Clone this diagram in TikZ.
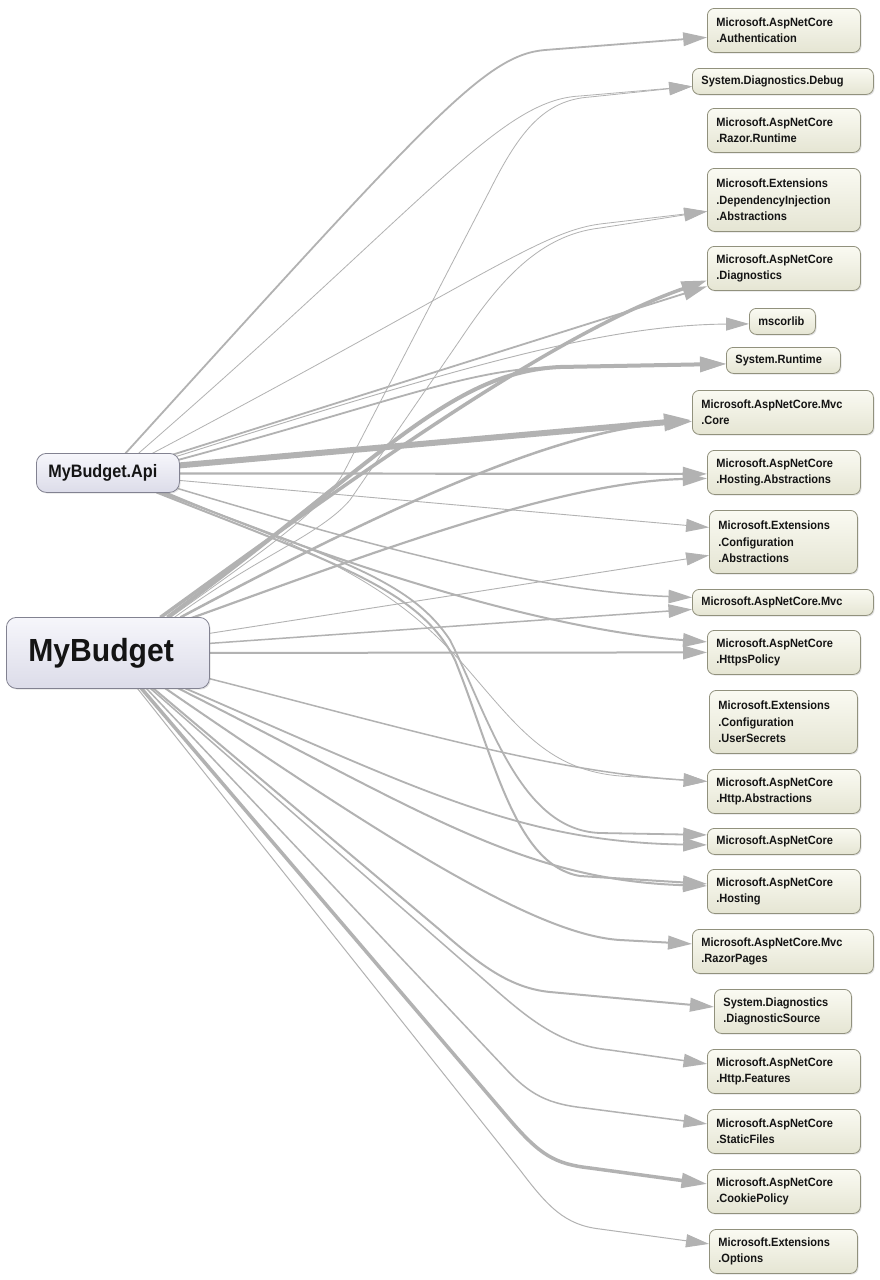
\documentclass[tikz,border=0pt]{standalone}
\usepackage{fontspec}
\setmainfont{Liberation Sans}
\newfontfamily\rfont[FakeStretch=0.92]{Liberation Sans}
\newfontfamily\afont[FakeStretch=0.90]{Liberation Sans}
\newfontfamily\mfont[FakeStretch=0.94]{Liberation Sans}
\usetikzlibrary{arrows.meta,shadows}
\definecolor{edgec}{RGB}{178,178,178}
\definecolor{rntop}{RGB}{250,250,242}
\definecolor{rnbot}{RGB}{229,229,211}
\definecolor{rnb}{RGB}{145,145,125}
\definecolor{lntop}{RGB}{246,246,251}
\definecolor{lnbot}{RGB}{220,220,233}
\definecolor{lnb}{RGB}{130,130,145}
\definecolor{txt}{RGB}{20,20,20}
\pgfdeclarelayer{bg}
\pgfsetlayers{bg,main}
\tikzset{
  rn/.style={rectangle, rounded corners=7pt, draw=rnb, line width=0.8pt,
    top color=rntop, bottom color=rnbot, anchor=north west,
    inner xsep=9pt, inner ysep=0pt, align=left, text=txt,
    font=\rfont\bfseries\fontsize{12}{16.5}\selectfont,
    drop shadow={opacity=0.22, shadow xshift=1.2pt, shadow yshift=-1.2pt}},
  ln/.style={rectangle, rounded corners=10pt, draw=lnb, line width=0.8pt,
    top color=lntop, bottom color=lnbot, anchor=north west,
    inner ysep=0pt, align=left, text=txt,
    drop shadow={opacity=0.22, shadow xshift=1.2pt, shadow yshift=-1.2pt}},
  wa/.style={minimum width=153pt, text width=135pt},
  wb/.style={minimum width=181pt, text width=163pt},
  wc/.style={minimum width=148pt, text width=130pt},
  h1/.style={minimum height=26pt},
  h2/.style={minimum height=44pt},
  h3/.style={minimum height=63pt},
  e/.style={draw=edgec, line join=round, -{Triangle[length=22pt 1, width=12.5pt 0.6]}},
  lw/.style={line width=#1}
}
\begin{document}
\begin{tikzpicture}[x=1pt,y=-1pt]
\useasboundingbox (0,0) rectangle (879,1280);
\begin{pgfonlayer}{bg}
\fill[white] (0,0) rectangle (879,1280);
\end{pgfonlayer}

% left nodes
\node[ln, font=\afont\bfseries\fontsize{18}{20}\selectfont, minimum width=143pt, minimum height=39pt, inner xsep=12pt, text width=119pt] (api) at (36,453) {MyBudget.Api};
\node[ln, font=\mfont\bfseries\fontsize{32}{34}\selectfont, minimum width=203pt, minimum height=71pt, inner xsep=22pt, text width=159pt] (mb) at (6,617) {MyBudget};

% right nodes
\node[rn, wa, h2] (auth) at (707,8) {Microsoft.AspNetCore\\.Authentication};
\node[rn, wb, h1] (debug) at (692,68) {System.Diagnostics.Debug};
\node[rn, wa, h2] (razor) at (707,108) {Microsoft.AspNetCore\\.Razor.Runtime};
\node[rn, wa, h3] (di) at (707,168) {Microsoft.Extensions\\.DependencyInjection\\.Abstractions};
\node[rn, wa, h2] (diag) at (707,246) {Microsoft.AspNetCore\\.Diagnostics};
\node[rn, h1, minimum width=66pt, text width=48pt] (mscorlib) at (749,308) {mscorlib};
\node[rn, h1, minimum width=114pt, text width=96pt] (sysrt) at (726,347) {System.Runtime};
\node[rn, wb, h2] (mvccore) at (692,390) {Microsoft.AspNetCore.Mvc\\.Core};
\node[rn, wa, h2] (hostabs) at (707,450) {Microsoft.AspNetCore\\.Hosting.Abstractions};
\node[rn, wc, h3] (cfgabs) at (709,510) {Microsoft.Extensions\\.Configuration\\.Abstractions};
\node[rn, wb, h1] (mvc) at (692,589) {Microsoft.AspNetCore.Mvc};
\node[rn, wa, h2] (https) at (707,630) {Microsoft.AspNetCore\\.HttpsPolicy};
\node[rn, wc, h3] (usersec) at (709,690) {Microsoft.Extensions\\.Configuration\\.UserSecrets};
\node[rn, wa, h2] (httpabs) at (707,769) {Microsoft.AspNetCore\\.Http.Abstractions};
\node[rn, wa, h1] (aspnet) at (707,828) {Microsoft.AspNetCore};
\node[rn, wa, h2] (hosting) at (707,869) {Microsoft.AspNetCore\\.Hosting};
\node[rn, wb, h2] (razorpages) at (692,929) {Microsoft.AspNetCore.Mvc\\.RazorPages};
\node[rn, h2, minimum width=137pt, text width=119pt] (diagsrc) at (714,989) {System.Diagnostics\\.DiagnosticSource};
\node[rn, wa, h2] (httpfeat) at (707,1049) {Microsoft.AspNetCore\\.Http.Features};
\node[rn, wa, h2] (static) at (707,1109) {Microsoft.AspNetCore\\.StaticFiles};
\node[rn, wa, h2] (cookie) at (707,1169) {Microsoft.AspNetCore\\.CookiePolicy};
\node[rn, wc, h2] (options) at (709,1229) {Microsoft.Extensions\\.Options};

\begin{pgfonlayer}{bg}
% ---- from MyBudget.Api ----
\draw[e,lw=1.8pt] ([shift={(17.5,-19.5)}]api.center) .. controls (430,118) and (485,55) .. (545,50) -- ([shift={(0,7)}]auth.west);
\draw[e,lw=0.8pt] ([shift={(30.5,-19.5)}]api.center) .. controls (430,200) and (500,100) .. (580,96) -- ([shift={(0,5)}]debug.west);
\draw[e,lw=0.8pt] ([shift={(42.5,-18.5)}]api.center) .. controls (480,280) and (540,232) .. (600,224) -- ([shift={(0,11.5)}]di.west);
\draw[e,lw=1.8pt] ([shift={(62.5,-17.5)}]api.center) -- ([shift={(0,18)}]diag.west);
\draw[e,lw=0.9pt] ([shift={(65.5,-15.5)}]api.center) .. controls (450,370) and (600,325) .. ([shift={(0,2.5)}]mscorlib.west);
\draw[e,lw=1.8pt] ([shift={(68.5,-12.5)}]api.center) .. controls (400,400) and (470,368) .. (560,367) -- ([shift={(0,3.5)}]sysrt.west);
\draw[e,lw=6pt] ([shift={(71.5,-7.5)}]api.center) -- ([shift={(0,7.5)}]mvccore.west);
\draw[e,lw=2.2pt] ([shift={(71.5,0.5)}]api.center) -- ([shift={(0,1.5)}]hostabs.west);
\draw[e,lw=0.9pt] ([shift={(71.5,7.5)}]api.center) -- ([shift={(0,-14.5)}]cfgabs.west);
\draw[e,lw=1.5pt] ([shift={(69.5,15.5)}]api.center) .. controls (400,555) and (550,592) .. ([shift={(0,-5)}]mvc.west);
\draw[e,lw=2pt] ([shift={(57.5,19.5)}]api.center) .. controls (350,570) and (550,630) .. ([shift={(0,-10.5)}]https.west);
\draw[e,lw=0.8pt] ([shift={(54.5,19.5)}]api.center) .. controls (330,555) and (400,590) .. (470,672) .. controls (520,730) and (550,770) .. (620,776) -- ([shift={(0,-10)}]httpabs.west);
\draw[e,lw=1.8pt] ([shift={(52.5,19.5)}]api.center) .. controls (340,560) and (410,580) .. (450,640) .. controls (490,720) and (520,830) .. (600,833) -- ([shift={(0,-6.5)}]aspnet.west);
\draw[e,lw=2pt] ([shift={(48.5,19.5)}]api.center) .. controls (340,565) and (420,590) .. (455,660) .. controls (495,760) and (515,865) .. (580,876) -- ([shift={(0,-7.5)}]hosting.west);
% ---- from MyBudget ----
\draw[e,lw=0.8pt] ([shift={(62.5,-35.5)}]mb.center) .. controls (250,560) and (325,510) .. (345,470) -- (490,190) .. controls (520,130) and (545,100) .. (590,97) -- ([shift={(0,5)}]debug.west);
\draw[e,lw=0.8pt] ([shift={(66.5,-35.5)}]mb.center) .. controls (260,555) and (320,535) .. (350,500) -- (460,340) .. controls (500,280) and (540,235) .. (600,228) -- ([shift={(0,11.5)}]di.west);
\draw[e,lw=3.5pt] ([shift={(52.5,-35.5)}]mb.center) .. controls (350,480) and (550,335) .. ([shift={(0,12)}]diag.west);
\draw[e,lw=4pt] ([shift={(59.5,-35.5)}]mb.center) .. controls (380,460) and (450,372) .. (560,367) -- ([shift={(0,3.5)}]sysrt.west);
\draw[e,lw=2.5pt] ([shift={(72.5,-35.5)}]mb.center) .. controls (400,500) and (560,430) .. ([shift={(0,9)}]mvccore.west);
\draw[e,lw=2.2pt] ([shift={(82.5,-34.5)}]mb.center) .. controls (380,550) and (560,482) .. ([shift={(0,6)}]hostabs.west);
\draw[e,lw=0.9pt] ([shift={(101.5,-19.5)}]mb.center) -- ([shift={(0,13.5)}]cfgabs.west);
\draw[e,lw=1.5pt] ([shift={(101.5,-9.5)}]mb.center) -- ([shift={(0,7)}]mvc.west);
\draw[e,lw=2pt] ([shift={(101.5,0)}]mb.center) -- ([shift={(0,0)}]https.west);
\draw[e,lw=1.5pt] ([shift={(100.5,25.5)}]mb.center) .. controls (400,727) and (550,772) .. ([shift={(0,-10)}]httpabs.west);
\draw[e,lw=1.8pt] ([shift={(77.5,35.5)}]mb.center) .. controls (420,790) and (520,842) .. ([shift={(0,3.5)}]aspnet.west);
\draw[e,lw=2pt] ([shift={(70.5,35.5)}]mb.center) .. controls (420,810) and (520,880) .. ([shift={(0,-5.5)}]hosting.west);
\draw[e,lw=2pt] ([shift={(57.5,35.5)}]mb.center) .. controls (400,850) and (540,935) .. (620,940) -- ([shift={(0,-7.5)}]razorpages.west);
\draw[e,lw=2pt] ([shift={(45.5,35.5)}]mb.center) -- (440,930) .. controls (480,965) and (510,988) .. (550,992) -- ([shift={(0,-4.5)}]diagsrc.west);
\draw[e,lw=1.5pt] ([shift={(42.5,35.5)}]mb.center) -- (490,985) .. controls (530,1020) and (560,1045) .. (610,1050) -- ([shift={(0,-7.5)}]httpfeat.west);
\draw[e,lw=1.5pt] ([shift={(38.5,35.5)}]mb.center) -- (505,1068) .. controls (530,1095) and (548,1104) .. (585,1108) -- ([shift={(0,-7.5)}]static.west);
\draw[e,lw=3.5pt] ([shift={(33.5,35.5)}]mb.center) -- (510,1120) .. controls (540,1155) and (555,1164) .. (590,1168) -- ([shift={(0,-7.5)}]cookie.west);
\draw[e,lw=1pt] ([shift={(29.5,35.5)}]mb.center) -- (520,1170) .. controls (548,1207) and (565,1225) .. (600,1229) -- ([shift={(0,-7.5)}]options.west);
\end{pgfonlayer}
\end{tikzpicture}
\end{document}
